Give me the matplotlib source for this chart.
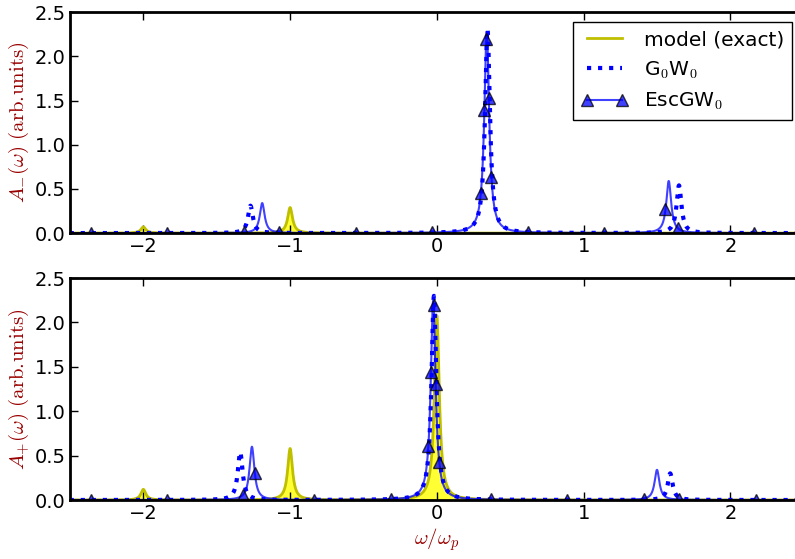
import numpy as np
import matplotlib
matplotlib.use("Agg")
import matplotlib.pyplot as plt

plt.rcParams['mathtext.fontset'] = 'cm'
plt.rcParams['font.size'] = 14

# ---------- данные: пики спектральных функций (положение, высота) ----------
# A_-(omega), верхняя панель
minus_model_pos = [-2.0, -1.0]
minus_model_h = [0.07, 0.29]
minus_g0w0_pos = [-1.27, 0.345, 1.65]
minus_g0w0_h = [0.31, 2.31, 0.54]
minus_esc_pos = [-1.19, 0.34, 1.58]
minus_esc_h = [0.34, 2.28, 0.59]

# A_+(omega), нижняя панель
plus_model_pos = [-2.0, -1.0, 0.0]
plus_model_h = [0.12, 0.58, 2.08]
plus_g0w0_pos = [-1.34, -0.02, 1.59]
plus_g0w0_h = [0.54, 2.30, 0.30]
plus_esc_pos = [-1.26, -0.025, 1.50]
plus_esc_h = [0.60, 2.25, 0.34]

x_ticks = [-2, -1, 0, 1, 2]
y_ticks = [0.0, 0.5, 1.0, 1.5, 2.0, 2.5]

GAMMA = 0.02
w = np.linspace(-2.88, 2.88, 2881)


def spectrum(pos, heights):
    """Сумма лоренцианов"""
    a = np.zeros_like(w)
    for x0, h in zip(pos, heights):
        a += h * GAMMA**2 / ((w - x0)**2 + GAMMA**2)
    return a


def draw_panel(ax, model, g0w0, esc):
    ax.plot(w, model, color='y', lw=2, label='model (exact)')
    ax.fill_between(w, 0, model, color='yellow', alpha=0.8, lw=0)
    ax.plot(w, g0w0, 'b:', lw=3, label=r'G$_0$W$_0$')
    ax.plot(w, esc, color='b', lw=1.5, alpha=0.75, marker='^', ms=9,
            mec='k', markevery=0.1, label=r'EscGW$_0$')
    ax.set_xlim(-2.5, 2.5)
    ax.set_ylim(0, 2.5)
    ax.set_xticks(x_ticks)
    ax.set_xticklabels([u'\u2212%d' % -t if t < 0 else '%d' % t for t in x_ticks])
    ax.set_yticks(y_ticks)
    ax.tick_params(direction='in', top=True, right=True, length=6, width=1,
                   labelsize=14, pad=3)
    for s in ax.spines.values():
        s.set_linewidth(2)


fig = plt.figure(figsize=(7.95, 5.59), dpi=100)
ax1 = fig.add_axes([0.088, 0.583, 0.923, 0.395])
ax2 = fig.add_axes([0.088, 0.1055, 0.923, 0.397])

draw_panel(ax1, spectrum(minus_model_pos, minus_model_h),
           spectrum(minus_g0w0_pos, minus_g0w0_h),
           spectrum(minus_esc_pos, minus_esc_h))
draw_panel(ax2, spectrum(plus_model_pos, plus_model_h),
           spectrum(plus_g0w0_pos, plus_g0w0_h),
           spectrum(plus_esc_pos, plus_esc_h))

ax1.set_ylabel(r'$A_{-}(\omega)\ \mathrm{(arb.\!units)}$', color='#990000',
               fontsize=15, labelpad=3)
ax2.set_ylabel(r'$A_{+}(\omega)\ \mathrm{(arb.\!units)}$', color='#990000',
               fontsize=15, labelpad=3)
ax2.set_xlabel(r'$\omega/\omega_p$', color='#990000', fontsize=15, labelpad=2)

ax1.legend(loc='upper right', bbox_to_anchor=(792 / 795, 1 - 22 / 559),
           bbox_transform=fig.transFigure, borderaxespad=0, numpoints=2,
           fancybox=False, framealpha=1, edgecolor='k', fontsize=14.5,
           handlelength=2.3)

fig.savefig('out.png', dpi=100)
